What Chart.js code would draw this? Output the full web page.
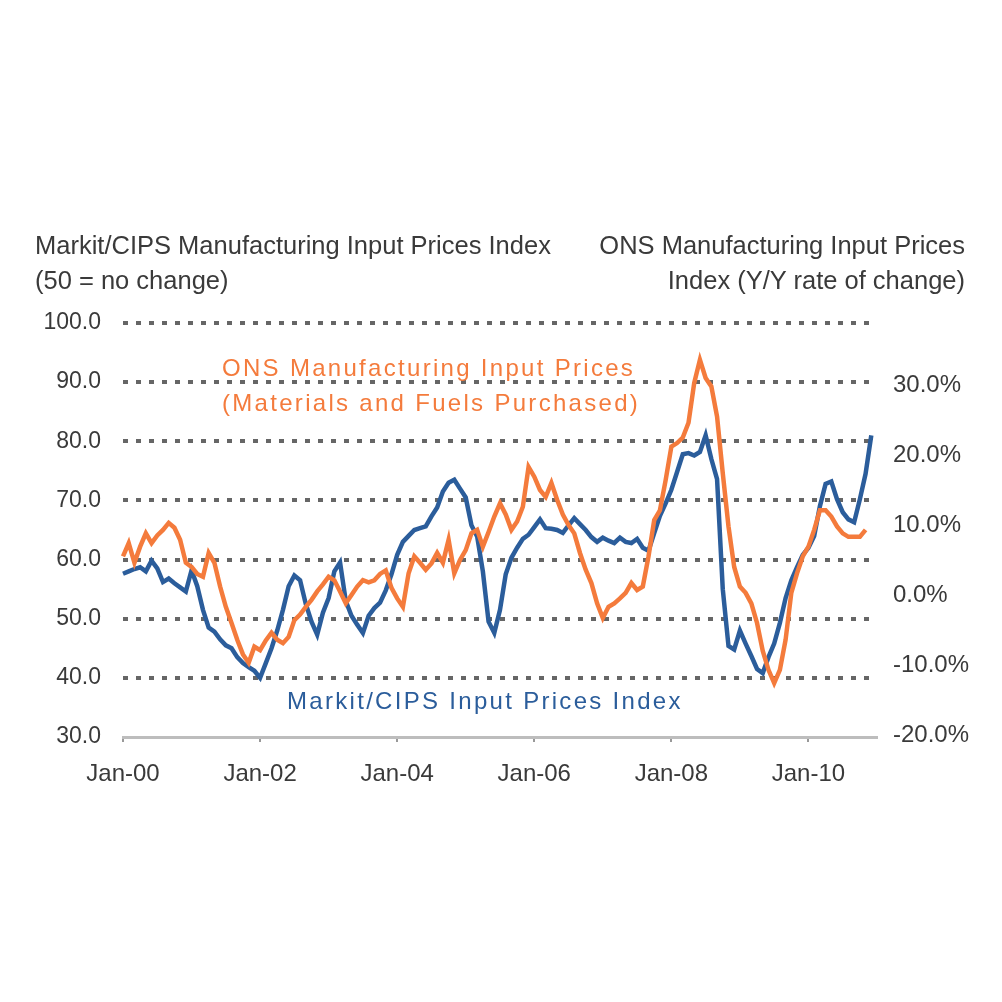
<!DOCTYPE html>
<html>
<head>
<meta charset="utf-8">
<script src="https://cdn.jsdelivr.net/npm/chart.js@4.4.1/dist/chart.umd.min.js"></script>
<style>
  html, body { margin: 0; padding: 0; background: #fff; }
  #wrap { position: relative; width: 1002px; height: 1002px; font-family: "Liberation Sans", Arial, sans-serif; }
  #chart { position: absolute; left: 0; top: 0; }
  .note { position: absolute; white-space: nowrap; }
  .title { color: #3a3a3a; font-size: 25.5px; line-height: 35px; }
  .series { font-size: 24px; line-height: 35px; letter-spacing: 2.3px; }
</style>
</head>
<body>
<div id="wrap">
  <canvas id="chart" width="1002" height="1002"></canvas>
  <div class="note title" style="left:35px; top:228px;">Markit/CIPS Manufacturing Input Prices Index<br>(50 = no change)</div>
  <div class="note title" style="right:37px; top:228px; text-align:right;">ONS Manufacturing Input Prices<br>Index (Y/Y rate of change)</div>
  <div class="note series" style="left:222px; top:350px; color:#f47b3c;">ONS Manufacturing Input Prices<br>(Materials and Fuels Purchased)</div>
  <div class="note series" style="left:287px; top:683px; color:#2b5d9b;">Markit/CIPS Input Prices Index</div>
</div>
<script>
// month categories, Jan-00 .. Jan-11
const monthNames = ["Jan", "Feb", "Mar", "Apr", "May", "Jun", "Jul", "Aug", "Sep", "Oct", "Nov", "Dec"];
const months = [];
for (let y = 0; y <= 11; y++) {
    for (let m = 0; m < 12; m++) {
        if (y === 11 && m > 0) break;
        months.push(monthNames[m] + "-" + String(y).padStart(2, "0"));
    }
}

// tick labels shown on the x axis
const xTickLabels = ["Jan-00", "Jan-02", "Jan-04", "Jan-06", "Jan-08", "Jan-10"];
const leftTicks = [30, 40, 50, 60, 70, 80, 90, 100];
const rightTicks = [-20, -10, 0, 10, 20, 30];

// Markit/CIPS input prices index (left axis), monthly from Jan-00
const cipsInput = [
    57.6, 58.0, 58.4, 58.7, 58.0, 59.8, 58.5, 56.2, 56.8, 56.0, 55.3, 54.6,
    58.2, 55.5, 51.5, 48.5, 47.8, 46.5, 45.5, 45.0, 43.5, 42.5, 41.8, 41.2,
    40.0, 42.5, 45.0, 48.0, 51.5, 55.5, 57.3, 56.5, 52.5, 49.5, 47.3, 51.0,
    53.5, 58.0, 59.5, 53.0, 50.5, 49.0, 47.6, 50.5, 51.8, 52.7, 54.8, 57.5,
    60.8, 63.0, 64.0, 65.0, 65.3, 65.6, 67.3, 68.8, 71.5, 73.0, 73.5, 72.0,
    70.5, 65.8, 63.9, 58.0, 49.5, 47.6, 51.5, 57.5, 60.3, 62.0, 63.5, 64.2,
    65.5, 66.8, 65.3, 65.2, 65.0, 64.5, 65.8, 67.0, 66.0, 65.0, 63.8, 63.0,
    63.7, 63.2, 62.8, 63.7, 63.0, 62.8, 63.5, 62.0, 61.5, 64.5, 67.4, 69.5,
    71.8, 74.8, 77.8, 78.0, 77.6, 78.2, 81.0, 77.0, 73.6, 55.0, 45.4, 44.8,
    48.0, 45.8, 43.7, 41.5, 40.8, 43.5, 45.8, 49.3, 53.5, 56.5, 58.7, 60.8,
    62.0, 64.0, 69.0, 72.8, 73.2, 70.2, 68.0, 66.8, 66.3, 70.2, 74.5, 81.0
];

// ONS input prices, y/y % change (right axis)
const onsInput = [
    5.5, 7.4, 4.6, 6.9, 8.8, 7.4, 8.5, 9.3, 10.3, 9.6, 7.9, 4.6,
    4.0, 3.0, 2.6, 6.0, 4.6, 1.2, -1.7, -4.0, -6.4, -8.5, -9.7, -7.4,
    -7.9, -6.5, -5.4, -6.4, -6.9, -6.0, -3.6, -2.8, -1.7, -0.7, 0.5, 1.5,
    2.6, 2.1, 0.5, -1.2, 0.0, 1.2, 2.1, 1.8, 2.1, 3.0, 3.5, 1.0,
    -0.5, -1.7, 3.1, 5.5, 4.6, 3.6, 4.5, 6.0, 4.6, 7.9, 3.1, 5.0,
    6.4, 8.8, 9.3, 6.9, 9.0, 11.2, 13.1, 11.5, 9.3, 10.5, 12.6, 18.3,
    16.9, 15.0, 14.0, 16.0, 13.6, 11.5, 10.0, 8.8, 6.0, 3.6, 1.7, -1.2,
    -3.3, -1.7, -1.2, -0.5, 0.3, 1.7, 0.7, 1.2, 5.5, 10.7, 12.1, 16.4,
    21.2, 21.7, 22.5, 24.6, 30.3, 33.6, 31.0, 29.8, 25.5, 17.4, 9.8, 4.0,
    1.2, 0.3, -1.2, -4.0, -8.0, -10.7, -12.6, -10.7, -6.4, 0.3, 3.1, 5.5,
    6.9, 9.3, 12.1, 12.1, 11.2, 9.8, 8.8, 8.3, 8.3, 8.3, 9.3
];

const tickColor = "#3a3a3a";

function renderChart() {
    const ctx = document.getElementById("chart").getContext("2d");
    new Chart(ctx, {
        type: "line",
        data: {
            labels: months,
            datasets: [
                {
                    label: "ONS Manufacturing Input Prices",
                    data: onsInput,
                    yAxisID: "yRight",
                    borderColor: "#f47b3c",
                    borderWidth: 4.5,
                    pointRadius: 0,
                    tension: 0
                },
                {
                    label: "Markit/CIPS Input Prices Index",
                    data: cipsInput,
                    yAxisID: "yLeft",
                    borderColor: "#2b5d9b",
                    borderWidth: 4.5,
                    pointRadius: 0,
                    tension: 0
                }
            ]
        },
        options: {
            responsive: false,
            animation: false,
            layout: { padding: { top: 323, left: 0, right: 0, bottom: 0 } },
            plugins: {
                legend: { display: false },
                tooltip: { enabled: false }
            },
            scales: {
                x: {
                    type: "category",
                    offset: false,
                    afterFit: (scale) => { scale.height = 265; },
                    afterBuildTicks: (scale) => {
                        scale.ticks = scale.ticks.filter(t => xTickLabels.includes(months[t.value]));
                    },
                    ticks: {
                        autoSkip: false,
                        maxRotation: 0,
                        padding: 18,
                        color: tickColor,
                        font: { family: "Liberation Sans", size: 24 },
                        callback: function (value) { return months[value]; }
                    },
                    grid: {
                        drawOnChartArea: false,
                        drawTicks: true,
                        tickLength: 5,
                        color: "#999",
                        lineWidth: 2
                    },
                    border: { display: true, color: "#bdbdbd", width: 3 }
                },
                yLeft: {
                    position: "left",
                    min: 30,
                    max: 100,
                    afterFit: (scale) => { scale.width = 123; },
                    afterBuildTicks: (scale) => {
                        scale.ticks = leftTicks.map(v => ({ value: v }));
                    },
                    ticks: {
                        padding: 22,
                        color: tickColor,
                        font: { family: "Liberation Sans", size: 23 },
                        callback: (v) => v.toFixed(1)
                    },
                    grid: {
                        drawTicks: false,
                        color: (c) => c.tick.value === 30 ? "rgba(0,0,0,0)" : "#666",
                        lineWidth: 4
                    },
                    border: { display: false, dash: [5, 8] }
                },
                yRight: {
                    position: "right",
                    min: -20.3,
                    max: 38.86,
                    afterFit: (scale) => { scale.width = 125; },
                    afterBuildTicks: (scale) => {
                        scale.ticks = rightTicks.map(v => ({ value: v }));
                    },
                    ticks: {
                        padding: 16,
                        color: tickColor,
                        font: { family: "Liberation Sans", size: 24 },
                        callback: (v) => v.toFixed(1) + "%"
                    },
                    grid: { display: false, drawTicks: false },
                    border: { display: false }
                }
            }
        }
    });
}

document.addEventListener("DOMContentLoaded", () => {
    renderChart();
});
</script>
</body>
</html>
